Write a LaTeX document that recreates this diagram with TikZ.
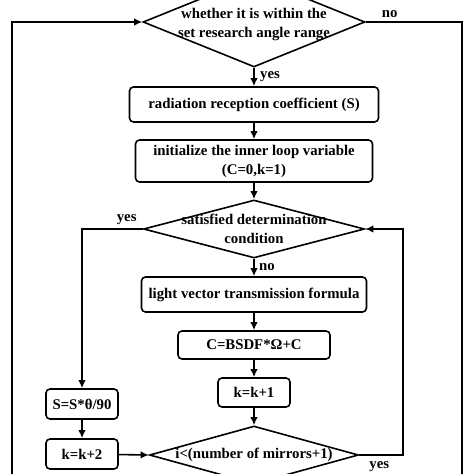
\documentclass[tikz,border=0pt]{standalone}
\usepackage{fontspec}
\setmainfont{Liberation Serif}
\usetikzlibrary{arrows.meta,shapes.geometric,positioning}

\begin{document}
\begin{tikzpicture}[x=1pt,y=-1pt,>={Latex[length=8pt,width=7.5pt]}]
        \tikzstyle{every node}=[font=\bfseries\fontsize{14.8}{19}\selectfont]
        \tikzstyle{proc}=[draw,line width=1.6pt,rounded corners=4pt,inner sep=0pt,align=center]
        \tikzstyle{decide}=[draw,line width=1.6pt,diamond,inner sep=0pt]
        \tikzstyle{txt}=[align=center,inner sep=0pt]
        \tikzstyle{line}=[line width=1.6pt]
        \useasboundingbox (0,0) rectangle (474,474);
        \clip (0,0) rectangle (474,474);

        %%% Main column
        \node[decide,minimum width=222,minimum height=90] (angle) at (254,22) {};
        \node[txt] (angletxt) at ([yshift=-2pt]angle.center) {whether it is within the\\set research angle range};
        \node[proc,minimum width=249,minimum height=35] (recv) at (254,104.5) {radiation reception coefficient (S)};
        \node[proc,minimum width=237,minimum height=42] (init) at (254,161) {initialize the inner loop variable\\(C=0,k=1)};
        \node[decide,minimum width=221,minimum height=58] (cond) at (254,229) {};
        \node[txt] (condtxt) at (cond.center) {satisfied determination\\condition};
        \node[proc,minimum width=225,minimum height=35] (light) at (254,294.5) {light vector transmission formula};
        \node[proc,minimum width=152,minimum height=28] (bsdf) at (254,345) {C=BSDF*Ω+C};
        \node[proc,minimum width=72,minimum height=29] (kone) at (254,392.5) {k=k+1};
        \node[decide,minimum width=209,minimum height=58] (mirror) at (254,455) {};
        \node[txt] (mirrortxt) at (mirror.center) {i<(number of mirrors+1)};

        %%% Side column
        \node[proc,minimum width=72,minimum height=30] (scale) at (82,404) {S=S*θ/90};
        \node[proc,minimum width=72,minimum height=30] (ktwo) at (82,454) {k=k+2};

        %%% Loop ends (below the visible part)
        \coordinate (loopl) at (12,490);
        \coordinate (loopr) at (462,490);
        \coordinate (back) at (403,455);

        \draw[->,line] (angle.south) -- node[right=2pt] {yes} (recv.north);
        \draw[->,line] (recv) -- (init);
        \draw[->,line] (init) -- (cond);
        \draw[->,line] (cond.south) -- node[right=1pt] {no} (light.north);
        \draw[->,line] (light) -- (bsdf);
        \draw[->,line] (bsdf) -- (kone);
        \draw[->,line] (kone) -- (mirror.north);
        \draw[->,line] (cond.west) node[above left=0pt and 2pt] {yes} -| (scale.north);
        \draw[->,line] (scale) -- (ktwo);
        \draw[->,line] (ktwo) -- (mirror.west);
        \draw[->,line] (mirror.east) node[below right=2pt and 6pt] {yes} -- (back) |- (cond.east);
        \draw[->,line] (loopl) |- (angle.west);
        \draw[line] (angle.east) node[above right=0pt and 12pt] {no} -| (loopr);
\end{tikzpicture}
\end{document}
